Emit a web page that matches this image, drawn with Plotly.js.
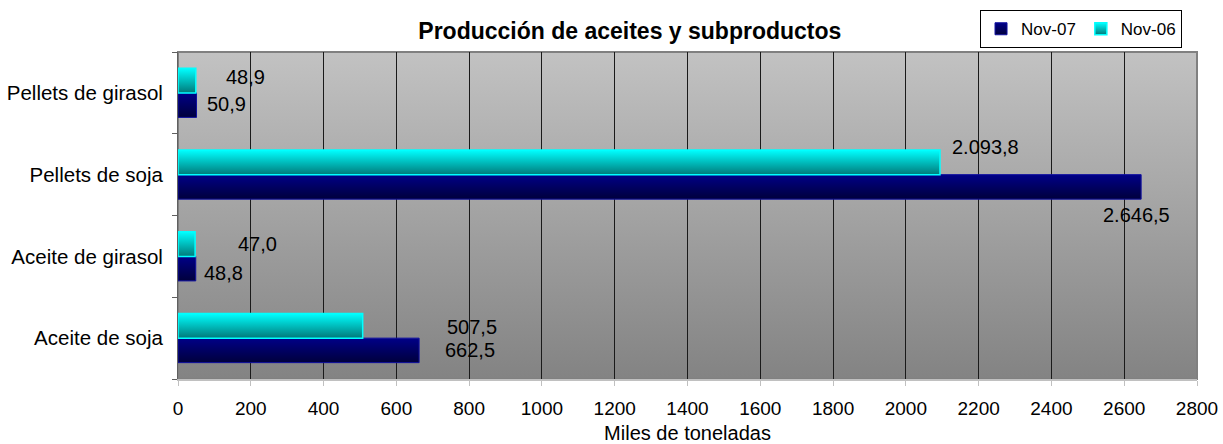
<!DOCTYPE html>
<html><head><meta charset="utf-8">
<script src="https://cdn.plot.ly/plotly-3.0.1.min.js"></script>
<style>html,body{margin:0;padding:0;background:#fff;} #chart{width:1223px;height:444px;}</style>
</head><body><div id="chart"></div>
<script>
// ---- data ----
const categories = ['Aceite de soja', 'Aceite de girasol', 'Pellets de soja', 'Pellets de girasol'];
const nov07 = [662.5, 48.8, 2646.5, 50.9];
const nov06 = [507.5, 47.0, 2093.8, 48.9];
const seriesNames = ['Nov-07', 'Nov-06'];
const xTicks = [0, 200, 400, 600, 800, 1000, 1200, 1400, 1600, 1800, 2000, 2200, 2400, 2600, 2800];
const chartTitle = 'Producción de aceites y subproductos';
const xTitle = 'Miles de toneladas';

// ---- label placement (pixel offsets, style only) ----
const dx07 = [51, 28, -5, 30];
const dy07 = [-12, -16.5, -40, -11];
const dx06 = [109, 62, 46, 50];
const dy06 = [11.5, 12.5, 27.5, 15.5];

function fmt(v) {
  const parts = v.toFixed(1).split('.');
  return parts[0].replace(/\B(?=(\d{3})+(?!\d))/g, '.') + ',' + parts[1];
}

const FONT = '"Liberation Sans", Arial, sans-serif';

const traces = [
  {type: 'bar', orientation: 'h', name: seriesNames[0], y: categories, x: nov07,
   marker: {color: '#000070', line: {color: '#1010a0', width: 1}}, hoverinfo: 'x+y'},
  {type: 'bar', orientation: 'h', name: seriesNames[1], y: categories, x: nov06,
   marker: {color: '#00bcbc', line: {color: '#00ffff', width: 1.5}}, hoverinfo: 'x+y'}
];

const annotations = [];
categories.forEach((c, i) => {
  annotations.push({x: nov07[i], y: c, text: fmt(nov07[i]), showarrow: false, xanchor: 'center', yanchor: 'middle',
    xshift: dx07[i], yshift: dy07[i], font: {family: FONT, size: 20, color: '#000'}});
  annotations.push({x: nov06[i], y: c, text: fmt(nov06[i]), showarrow: false, xanchor: 'center', yanchor: 'middle',
    xshift: dx06[i], yshift: dy06[i], font: {family: FONT, size: 20, color: '#000'}});
});

const layout = {
  width: 1223, height: 444,
  margin: {l: 178, r: 26, t: 52, b: 65},
  paper_bgcolor: '#ffffff', plot_bgcolor: '#a4a4a4',
  font: {family: FONT, color: '#000'},
  title: {text: '<b>' + chartTitle + '</b>', font: {family: FONT, size: 23, color: '#000'},
    xref: 'container', x: 0.515, xanchor: 'center', yref: 'container', y: 0.93, yanchor: 'middle'},
  barmode: 'group', bargap: 0.4, bargroupgap: 0,
  showlegend: true,
  legend: {orientation: 'h', xref: 'container', x: 0.9665, xanchor: 'right', yref: 'container', y: 0.977, yanchor: 'top',
    bgcolor: '#ffffff', bordercolor: '#000', borderwidth: 1, font: {family: FONT, size: 17, color: '#000'},
    traceorder: 'normal', itemwidth: 30},
  xaxis: {range: [0, 2800], tickvals: xTicks, ticktext: xTicks.map(String), ticks: 'outside', ticklen: 5,
    tickcolor: '#c0c0c0', showline: true, linecolor: '#c0c0c0', linewidth: 2, showgrid: true,
    gridcolor: '#1a1a1a', gridwidth: 1, zeroline: false, tickfont: {family: FONT, size: 19, color: '#000'},
    ticklabelstandoff: 6, title: {text: xTitle, font: {family: FONT, size: 20, color: '#000'}, standoff: 11}, fixedrange: true},
  yaxis: {type: 'category', categoryorder: 'array', categoryarray: categories, ticks: 'outside', tickson: 'boundaries',
    ticklen: 5, tickcolor: '#606060', showline: true, linecolor: '#606060', linewidth: 1, showgrid: false,
    tickfont: {family: FONT, size: 20.5, color: '#000'}, ticklabelstandoff: 10, fixedrange: true},
  shapes: [{type: 'rect', xref: 'paper', yref: 'paper', x0: 0, x1: 1, y0: 0, y1: 1, line: {color: '#808080', width: 2}, layer: 'below'}],
  annotations: annotations
};

function addGrad(defs, id, c1, c2) {
  const ns = 'http://www.w3.org/2000/svg';
  const g = document.createElementNS(ns, 'linearGradient');
  g.setAttribute('id', id); g.setAttribute('x1', '0'); g.setAttribute('y1', '0'); g.setAttribute('x2', '0'); g.setAttribute('y2', '1');
  [[0, c1], [1, c2]].forEach(s => {
    const st = document.createElementNS(ns, 'stop');
    st.setAttribute('offset', s[0]); st.setAttribute('stop-color', s[1]);
    g.appendChild(st);
  });
  defs.appendChild(g);
}

Plotly.newPlot('chart', traces, layout, {displayModeBar: false, staticPlot: true}).then(() => {
  const ns = 'http://www.w3.org/2000/svg';
  const svg = document.querySelector('#chart .main-svg');
  const defs = document.createElementNS(ns, 'defs');
  svg.insertBefore(defs, svg.firstChild);
  addGrad(defs, 'gBg', '#c2c2c2', '#838383');
  addGrad(defs, 'gNavy', '#000088', '#00003c');
  addGrad(defs, 'gCyan', '#00ffff', '#007a7a');
  document.querySelectorAll('#chart .bglayer rect.bg').forEach(r => r.style.fill = 'url(#gBg)');
  const barTraces = document.querySelectorAll('#chart .barlayer .trace');
  const fills = ['url(#gNavy)', 'url(#gCyan)'];
  barTraces.forEach((t, i) => t.querySelectorAll('path').forEach(p => p.style.fill = fills[i]));
  document.querySelectorAll('#chart .legend .traces').forEach((t, i) =>
    t.querySelectorAll('.legendpoints path').forEach(p => p.style.fill = fills[i]));
});
</script>
</body></html>
